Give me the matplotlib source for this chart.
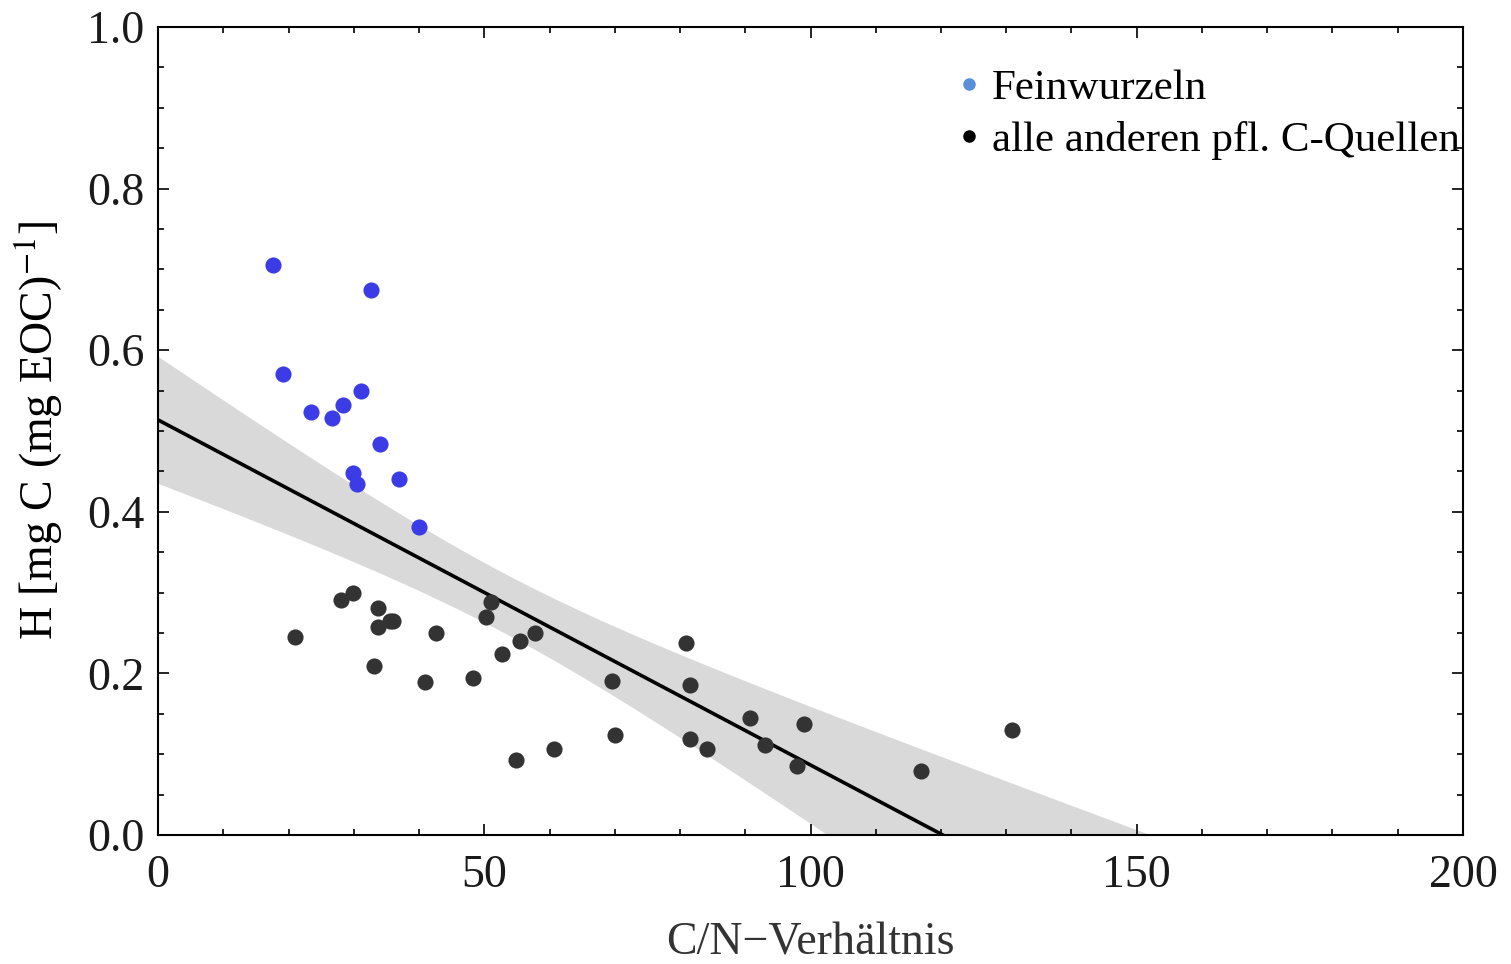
import numpy as np
import matplotlib
matplotlib.use("Agg")
import matplotlib.pyplot as plt
from matplotlib.lines import Line2D
from matplotlib.ticker import MultipleLocator

plt.rcParams['font.family'] = ['Liberation Serif', 'DejaVu Serif']
plt.rcParams['mathtext.fontset'] = 'stix'

# Feinwurzeln (fine roots)
fw_cn = [17.6, 32.7, 19.1, 31.1, 28.3, 23.5, 26.6, 34.0, 29.9, 30.5, 36.9, 40.0]
fw_h = [0.705, 0.674, 0.570, 0.549, 0.532, 0.524, 0.516, 0.484, 0.448, 0.434, 0.440, 0.381]

# alle anderen pflanzlichen C-Quellen
other_cn = [21.0, 28.0, 29.9, 33.7, 33.7, 35.6, 36.0, 33.1, 42.6, 40.9, 48.3, 50.2,
            51.1, 52.7, 55.5, 57.7, 54.9, 60.7, 70.1, 69.6, 80.9, 81.5, 81.5, 84.1,
            90.8, 93.1, 99.0, 97.9, 117.0, 130.9]
other_h = [0.245, 0.291, 0.299, 0.281, 0.258, 0.265, 0.265, 0.209, 0.250, 0.189, 0.194, 0.270,
           0.288, 0.224, 0.240, 0.250, 0.093, 0.106, 0.124, 0.191, 0.238, 0.186, 0.119, 0.107,
           0.145, 0.112, 0.138, 0.086, 0.079, 0.130]

# linear fit over all points with 95% mean confidence band
x_all = np.array(fw_cn + other_cn)
y_all = np.array(fw_h + other_h)
n = len(x_all)
slope, intercept = np.polyfit(x_all, y_all, 1)
resid = y_all - (intercept + slope * x_all)
s = np.sqrt(np.sum(resid ** 2) / (n - 2))
sxx = np.sum((x_all - x_all.mean()) ** 2)
t95 = 2.021

xs = np.linspace(0, 200, 400)
fit = intercept + slope * xs
half = t95 * s * np.sqrt(1 / n + (xs - x_all.mean()) ** 2 / sxx)

fig = plt.figure(figsize=(15.11, 9.64), dpi=100)
ax = fig.add_axes([0.1046, 0.1338, 0.8636, 0.8382])

ax.fill_between(xs, fit - half, fit + half, color='#d9d9d9', lw=0, zorder=1)
ax.plot(xs, fit, color='black', lw=2.6, zorder=2)
ax.scatter(other_cn, other_h, s=135, color='#333333', lw=0, zorder=3)
ax.scatter(fw_cn, fw_h, s=135, color='#3c3ce6', lw=0, zorder=3)

ax.set_xlim(0, 200)
ax.set_ylim(0, 1.0)
ax.xaxis.set_major_locator(MultipleLocator(50))
ax.xaxis.set_minor_locator(MultipleLocator(10))
ax.yaxis.set_major_locator(MultipleLocator(0.2))
ax.yaxis.set_minor_locator(MultipleLocator(0.05))
ax.yaxis.set_major_formatter(matplotlib.ticker.FormatStrFormatter('%.1f'))
ax.tick_params(which='both', direction='in', top=True, right=True, labelsize=33,
               width=1.2, labelcolor='#1a1a1a')
ax.tick_params(which='major', length=8, pad=10)
ax.tick_params(which='minor', length=4)
ax.tick_params(axis='x', pad=14)
for sp in ax.spines.values():
    sp.set_linewidth(1.5)

ax.set_xlabel('C/N\u2212Verhältnis', fontsize=33, color='#333333', labelpad=18)
ax.set_ylabel('H [mg C (mg EOC)$^{-1}$]', fontsize=33, labelpad=16)

handles = [
    Line2D([], [], marker='o', ls='', color='#5b8fd9', markersize=8),
    Line2D([], [], marker='o', ls='', color='black', markersize=8),
]
ax.legend(handles, ['Feinwurzeln', 'alle anderen pfl. C-Quellen'], loc='upper left',
          bbox_to_anchor=(0.598, 0.97), frameon=False, fontsize=31,
          handlelength=0.6, handletextpad=0.25, labelspacing=0.3, borderaxespad=0)

fig.savefig('out.png', dpi=100)
